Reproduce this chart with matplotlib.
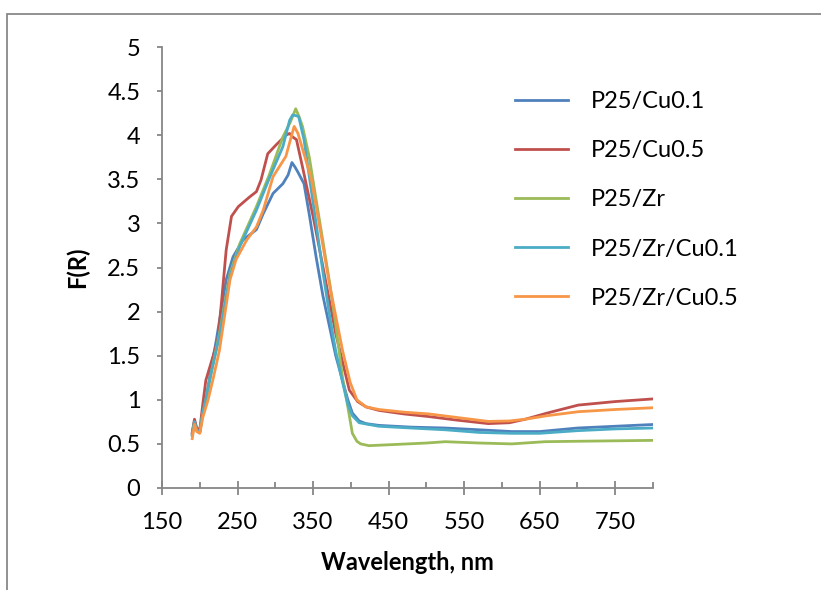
import matplotlib.pyplot as plt
from matplotlib.patches import Rectangle
from matplotlib.ticker import MultipleLocator, FixedLocator

# P25/Cu0.1
wl_cu01 = [190, 193, 196, 200, 204, 208, 215, 222, 229, 235, 244, 257, 275, 284, 297, 310, 317, 322,
           326, 330, 338, 345, 354, 363, 372, 380, 388, 396, 402, 411, 420, 437, 480, 525, 570, 613,
           650, 700, 750, 800]
f_cu01 = [0.62, 0.76, 0.66, 0.63, 0.85, 1.0, 1.35, 1.68, 2.05, 2.36, 2.62, 2.81, 2.93, 3.11, 3.34, 3.45,
          3.55, 3.69, 3.64, 3.58, 3.45, 3.10, 2.62, 2.18, 1.82, 1.50, 1.25, 1.0, 0.85, 0.76, 0.73, 0.71,
          0.69, 0.68, 0.66, 0.64, 0.64, 0.68, 0.70, 0.72]

# P25/Cu0.5
wl_cu05 = [190, 193, 196, 200, 204, 208, 215, 224, 229, 235, 242, 251, 266, 275, 281, 290, 301, 314,
           319, 323, 328, 336, 350, 363, 380, 398, 409, 420, 437, 470, 503, 540, 582, 610, 631, 660,
           701, 750, 800]
f_cu05 = [0.63, 0.78, 0.68, 0.66, 0.95, 1.22, 1.42, 1.68, 2.13, 2.70, 3.08, 3.19, 3.30, 3.36, 3.49, 3.79,
          3.89, 4.0, 4.02, 3.98, 3.95, 3.64, 3.08, 2.51, 1.75, 1.11, 0.98, 0.92, 0.88, 0.84, 0.81, 0.77,
          0.73, 0.74, 0.78, 0.85, 0.94, 0.98, 1.01]

# P25/Zr
wl_zr = [190, 193, 196, 200, 204, 208, 215, 226, 240, 253, 275, 292, 310, 320, 327, 331, 336, 345,
         354, 363, 372, 380, 389, 396, 402, 408, 413, 424, 450, 500, 525, 570, 613, 657, 700, 750, 800]
f_zr = [0.60, 0.74, 0.65, 0.63, 0.85, 1.0, 1.3, 1.75, 2.43, 2.77, 3.19, 3.55, 3.98, 4.15, 4.30, 4.22,
        4.10, 3.75, 3.27, 2.80, 2.32, 1.85, 1.25, 0.92, 0.62, 0.53, 0.50, 0.48, 0.49, 0.51, 0.525, 0.51,
        0.50, 0.525, 0.53, 0.535, 0.54]

# P25/Zr/Cu0.1
wl_zr_cu01 = [190, 193, 196, 200, 204, 208, 215, 226, 240, 253, 275, 292, 310, 319, 323, 328, 331,
              338, 345, 354, 363, 372, 380, 389, 396, 402, 411, 437, 480, 525, 570, 613, 650, 700,
              750, 800]
f_zr_cu01 = [0.60, 0.75, 0.66, 0.63, 0.85, 1.0, 1.3, 1.72, 2.40, 2.74, 3.15, 3.51, 3.87, 4.17, 4.23,
             4.22, 4.21, 3.95, 3.53, 3.0, 2.45, 1.95, 1.55, 1.2, 0.95, 0.82, 0.74, 0.70, 0.68, 0.66,
             0.63, 0.62, 0.62, 0.65, 0.67, 0.68]

# P25/Zr/Cu0.5
wl_zr_cu05 = [190, 193, 196, 200, 204, 211, 218, 226, 240, 248, 262, 275, 284, 297, 314, 321, 325,
              330, 341, 348, 354, 363, 372, 380, 389, 399, 408, 420, 437, 470, 503, 540, 582, 610, 631,
              660, 701, 750, 800]
f_zr_cu05 = [0.56, 0.72, 0.64, 0.62, 0.8, 1.0, 1.25, 1.56, 2.36, 2.59, 2.81, 2.96, 3.15, 3.53, 3.76,
             3.98, 4.10, 4.02, 3.70, 3.49, 3.20, 2.75, 2.30, 1.95, 1.56, 1.20, 1.0, 0.92, 0.89, 0.86,
             0.84, 0.80, 0.755, 0.76, 0.78, 0.82, 0.865, 0.89, 0.91]

series = [
    ("P25/Cu0.1", wl_cu01, f_cu01, "#4F81BD"),
    ("P25/Cu0.5", wl_cu05, f_cu05, "#C0504D"),
    ("P25/Zr", wl_zr, f_zr, "#9BBB59"),
    ("P25/Zr/Cu0.1", wl_zr_cu01, f_zr_cu01, "#4BACC6"),
    ("P25/Zr/Cu0.5", wl_zr_cu05, f_zr_cu05, "#F79646"),
]

plt.rcParams['font.family'] = ['Lato', 'DejaVu Sans']
fs = 17

fig = plt.figure(figsize=(8.21, 5.90), dpi=100)
ax = fig.add_axes([162 / 821, 1 - 488 / 590, (653 - 162) / 821, (488 - 47) / 590])

for name, x, y, c in series:
    ax.plot(x, y, color=c, lw=2.0, label=name)

ax.set_xlim(150, 800)
ax.set_ylim(0, 5)
ax.xaxis.set_major_locator(FixedLocator([150, 250, 350, 450, 550, 650, 750]))
ax.xaxis.set_minor_locator(FixedLocator([200, 300, 400, 500, 600, 700, 800]))
ax.yaxis.set_major_locator(MultipleLocator(0.5))
ax.yaxis.set_major_formatter(plt.FuncFormatter(lambda v, p: f"{v:g}"))

for s in ("top", "right"):
    ax.spines[s].set_visible(False)
for s in ("left", "bottom"):
    ax.spines[s].set_color("#868686")
    ax.spines[s].set_linewidth(1.3)

ax.tick_params(axis="x", which="major", direction="inout", length=10, width=1.3,
               color="#868686", labelsize=fs, pad=12)
ax.tick_params(axis="x", which="minor", direction="in", length=4, width=1.3, color="#868686")
ax.tick_params(axis="y", which="major", direction="out", length=3.6, width=1.3,
               color="#868686", labelsize=fs, pad=12)

ax.set_xlabel("Wavelength, nm", fontsize=fs, fontweight="bold", labelpad=13)
ax.set_ylabel("F(R)", fontsize=fs, fontweight="bold", labelpad=13)

ax.legend(loc="upper left", bbox_to_anchor=(494 / 821, 1 - 70 / 590),
          bbox_transform=fig.transFigure, frameon=False, fontsize=fs,
          handlelength=2.25, handletextpad=0.97, labelspacing=1.19)

fig.add_artist(Rectangle((7 / 821, -0.1), 1.2, 1.1 - 14 / 590, transform=fig.transFigure,
                         fill=False, edgecolor="#888888", lw=1.3))

fig.savefig("out.png", dpi=100)
